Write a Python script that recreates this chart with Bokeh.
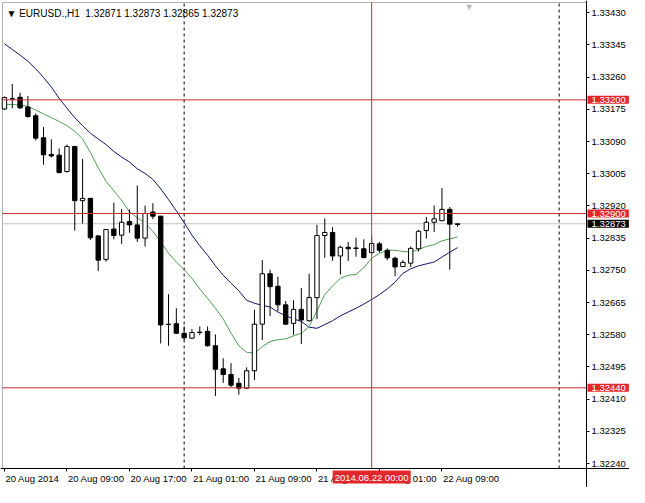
from bokeh.plotting import figure
from bokeh.models import (Range1d, FixedTicker, Label, ColumnDataSource, BoxAnnotation,
                          NumeralTickFormatter, CustomJSTickFormatter)
from bokeh.embed import file_html
from bokeh.resources import INLINE

# ---------------- data ----------------
symbol = "EURUSD.,H1"
hours = list(range(1, 60))  # hours since 20 Aug 2014 00:00

opens = [1.33176, 1.33203, 1.33207, 1.33181, 1.33158, 1.33100, 1.33056, 1.33054, 1.33011, 1.33077,
         1.32934, 1.32940, 1.32841, 1.32779, 1.32859, 1.32843, 1.32879, 1.32870, 1.32835, 1.32904,
         1.32893, 1.32608, 1.32609, 1.32584, 1.32571, 1.32587, 1.32589, 1.32551, 1.32490, 1.32475,
         1.32452, 1.32439, 1.32485, 1.32608, 1.32741, 1.32708, 1.32659, 1.32610, 1.32647, 1.32617,
         1.32678, 1.32842, 1.32850, 1.32788, 1.32811, 1.32809, 1.32807, 1.32797, 1.32820, 1.32803,
         1.32782, 1.32760, 1.32769, 1.32807, 1.32855, 1.32877, 1.32881, 1.32911, 1.32871]
highs = [1.33209, 1.33242, 1.33219, 1.33210, 1.33164, 1.33128, 1.33096, 1.33072, 1.33082, 1.33078,
         1.33044, 1.32941, 1.32842, 1.32859, 1.32929, 1.32912, 1.32911, 1.32974, 1.32921, 1.32927,
         1.32894, 1.32687, 1.32650, 1.32602, 1.32595, 1.32602, 1.32602, 1.32581, 1.32518, 1.32505,
         1.32466, 1.32494, 1.32646, 1.32777, 1.32752, 1.32733, 1.32669, 1.32671, 1.32703, 1.32741,
         1.32870, 1.32887, 1.32864, 1.32815, 1.32825, 1.32836, 1.32832, 1.32841, 1.32825, 1.32808,
         1.32786, 1.32777, 1.32813, 1.32857, 1.32891, 1.32921, 1.32967, 1.32917, 1.32873]
lows = [1.33173, 1.33178, 1.33176, 1.33153, 1.33093, 1.33029, 1.33048, 1.33006, 1.33008, 1.32855,
        1.32874, 1.32830, 1.32748, 1.32773, 1.32832, 1.32820, 1.32849, 1.32825, 1.32813, 1.32885,
        1.32557, 1.32551, 1.32582, 1.32566, 1.32569, 1.32579, 1.32549, 1.32418, 1.32453, 1.32442,
        1.32422, 1.32437, 1.32460, 1.32566, 1.32629, 1.32642, 1.32606, 1.32580, 1.32556, 1.32615,
        1.32621, 1.32783, 1.32775, 1.32739, 1.32775, 1.32786, 1.32781, 1.32792, 1.32797, 1.32777,
        1.32735, 1.32759, 1.32759, 1.32800, 1.32834, 1.32851, 1.32880, 1.32752, 1.32865]
closes = [1.33206, 1.33202, 1.33179, 1.33156, 1.33099, 1.33055, 1.33052, 1.33008, 1.33077, 1.32934,
          1.32940, 1.32836, 1.32777, 1.32858, 1.32842, 1.32877, 1.32870, 1.32835, 1.32900, 1.32893,
          1.32606, 1.32607, 1.32584, 1.32572, 1.32586, 1.32586, 1.32551, 1.32489, 1.32475, 1.32447,
          1.32439, 1.32485, 1.32608, 1.32741, 1.32707, 1.32659, 1.32608, 1.32647, 1.32619, 1.32678,
          1.32842, 1.32850, 1.32788, 1.32811, 1.32807, 1.32808, 1.32784, 1.32821, 1.32803, 1.32783,
          1.32759, 1.32771, 1.32808, 1.32853, 1.32877, 1.32886, 1.32911, 1.32872, 1.32873]

ma_fast = [1.33188, 1.33188, 1.33186, 1.33183, 1.33173, 1.33163, 1.33153, 1.33143, 1.33132, 1.33117,
           1.33097, 1.33061, 1.33021, 1.32985, 1.32960, 1.32935, 1.32904, 1.32889, 1.32874, 1.32853,
           1.32825, 1.32795, 1.32772, 1.32752, 1.32729, 1.32701, 1.32676, 1.32650, 1.32622, 1.32584,
           1.32551, 1.32534, 1.32531, 1.32549, 1.32562, 1.32567, 1.32569, 1.32577, 1.32584, 1.32602,
           1.32643, 1.32686, 1.32709, 1.32729, 1.32737, 1.32739, 1.32757, 1.32782, 1.32795, 1.32803,
           1.32803, 1.32800, 1.32798, 1.32805, 1.32813, 1.32818, 1.32828, 1.32833, 1.32838]
ma_slow = [1.33348, 1.33333, 1.33318, 1.33302, 1.33282, 1.33259, 1.33234, 1.33204, 1.33178, 1.33153,
           1.33132, 1.33112, 1.33097, 1.33082, 1.33064, 1.33049, 1.33036, 1.33018, 1.33006, 1.32990,
           1.32965, 1.32937, 1.32907, 1.32876, 1.32843, 1.32815, 1.32790, 1.32762, 1.32737, 1.32716,
           1.32696, 1.32671, 1.32663, 1.32658, 1.32653, 1.32640, 1.32630, 1.32622, 1.32615, 1.32600,
           1.32597, 1.32607, 1.32617, 1.32630, 1.32640, 1.32650, 1.32661, 1.32673, 1.32686, 1.32701,
           1.32719, 1.32742, 1.32754, 1.32762, 1.32767, 1.32772, 1.32785, 1.32798, 1.32810]

price_ticks = [1.33430, 1.33345, 1.33260, 1.33175, 1.33090, 1.33005, 1.32920, 1.32835,
               1.32750, 1.32665, 1.32580, 1.32495, 1.32410, 1.32325, 1.32240]
time_tick_hours = [1, 9, 17, 25, 33, 41, 49, 57]
time_tick_labels = ["20 Aug 2014", "20 Aug 09:00", "20 Aug 17:00", "21 Aug 01:00",
                    "21 Aug 09:00", "21 Aug 17:00", "22 Aug 01:00", "22 Aug 09:00"]
hline_prices = [1.33200, 1.32900, 1.32440]
bid_price = 1.32873
vline_hour = 48
vline_label = "2014.08.22 00:00"
day_separators = [24, 72]

# ---------------- layout ----------------
X0, X1 = 0.75, 75.5          # visible bar window of the chart area
Y0, Y1 = 1.32227, 1.33457    # visible price window of the chart area
W, H = 629, 487
CL, CR, CT, CB = 2, 586, 2, 468   # chart area in canvas pixels
FONT = "Liberation Sans"
FS = "9.5px"
RED = "#e3262c"
LINE_RED = "#cc2a30"

dx = (X1 - X0) / (CR - CL)
dy = (Y1 - Y0) / (CB - CT)
xr = Range1d(X0 - CL * dx, X1 + (W - CR) * dx)
yr = Range1d(Y0 - (H - CB) * dy, Y1 + CT * dy)
px_per_bar = 1.0 / dx

cw = {d: 0.556 for d in "0123456789"}
cw.update({" ": 0.278, ":": 0.278, ".": 0.278, "A": 0.667, "u": 0.556, "g": 0.556})
def text_px(s):
    return sum(cw.get(ch, 0.556) for ch in s) * 9.5

label_centers = [round(h + (text_px(s) / 2 + 1) / px_per_bar, 3)
                 for h, s in zip(time_tick_hours, time_tick_labels)]

p = figure(width=W, height=H, output_backend="svg", toolbar_location=None,
           x_range=xr, y_range=yr, y_axis_location="right", x_axis_location="below",
           min_border_left=0, min_border_right=0, min_border_top=0, min_border_bottom=0)
p.grid.visible = False
p.outline_line_color = None
p.background_fill_color = "white"
p.border_fill_color = "white"

# right price axis, pinned to the right edge of the chart area
ya = p.yaxis[0]
ya.fixed_location = X1
ya.ticker = FixedTicker(ticks=price_ticks)
ya.formatter = NumeralTickFormatter(format="0.00000")
ya.major_tick_out = 3
ya.major_tick_in = 0
ya.minor_tick_out = 0
ya.major_label_standoff = 2
ya.axis_line_color = "black"
ya.major_label_text_font = FONT
ya.major_label_text_font_size = FS
ya.major_label_text_color = "black"

# bottom time axis, pinned to the bottom of the chart area; labels start at their tick marks
xa = p.xaxis[0]
xa.fixed_location = Y0
xa.ticker = FixedTicker(ticks=label_centers, minor_ticks=time_tick_hours)
xa.formatter = CustomJSTickFormatter(args=dict(labels=time_tick_labels),
                                     code="return labels[index] || '';")
xa.major_tick_out = 0
xa.major_tick_in = 0
xa.minor_tick_out = 3
xa.minor_tick_in = 0
xa.major_label_standoff = 1
xa.axis_line_color = "black"
xa.major_label_text_font = FONT
xa.major_label_text_font_size = FS
xa.major_label_text_color = "black"

# chart area border
p.add_layout(BoxAnnotation(left=X0, right=X1, bottom=Y0, top=Y1, fill_alpha=0,
                           line_color="black", line_width=1, level="underlay"))

# candles
tops = [max(o, c) for o, c in zip(opens, closes)]
bots = [min(o, c) for o, c in zip(opens, closes)]
fills = ["white" if c >= o else "black" for o, c in zip(opens, closes)]
src = ColumnDataSource(dict(x=hours, o=opens, h=highs, l=lows, c=closes,
                            top=tops, bottom=bots, fill=fills))

# period separators (dashed), behind everything
p.segment(x0=day_separators, y0=[Y0] * len(day_separators), x1=day_separators,
          y1=[Y1] * len(day_separators), line_color="black", line_dash="3 3", line_width=1)

# bid line
p.segment(x0=[X0], y0=[bid_price], x1=[X1], y1=[bid_price], line_color="#c0c0c0", line_width=1)

# moving averages
p.line(hours, ma_slow, line_color="#14146e", line_width=1)
p.line(hours, ma_fast, line_color="#4f9f4f", line_width=1)

p.segment(x0="x", y0="l", x1="x", y1="h", source=src, line_color="black", line_width=1)
p.vbar(x="x", top="top", bottom="bottom", width=0.56, source=src,
       fill_color="fill", line_color="black", line_width=1)

# horizontal red lines
n = len(hline_prices)
p.segment(x0=[X0] * n, y0=hline_prices, x1=[X1] * n, y1=hline_prices,
          line_color=LINE_RED, line_width=1)

# vertical red line
p.segment(x0=[vline_hour], y0=[Y0], x1=[vline_hour], y1=[Y1], line_color=LINE_RED, line_width=1)

# price tags over the right axis
pad = dict(left=4, right=3, top=1, bottom=1)
for hp in hline_prices:
    p.add_layout(Label(x=X1, y=hp, x_offset=1, text=f"{hp:.5f}", text_color="white",
                       text_font=FONT, text_font_size=FS, text_baseline="middle",
                       text_align="left", background_fill_color=RED, padding=pad))
p.add_layout(Label(x=X1, y=bid_price, x_offset=1, text=f"{bid_price:.5f}", text_color="white",
                   text_font=FONT, text_font_size=FS, text_baseline="middle",
                   text_align="left", background_fill_color="black", padding=pad))

# time tag of the vertical line
p.add_layout(Label(x=vline_hour, y=Y0, y_offset=-2, text=vline_label, text_color="white",
                   text_font=FONT, text_font_size=FS, text_baseline="top",
                   text_align="center", background_fill_color=RED,
                   padding=dict(left=2, right=2, top=1, bottom=1)))

# header
header = "\u25bc " + symbol + "\u00a0\u00a0" + " ".join(
    f"{v:.5f}" for v in (opens[-1], highs[-1], lows[-1], closes[-1]))
p.add_layout(Label(x=X0, y=Y1, x_offset=4, y_offset=-5, text=header, text_color="black",
                   text_font=FONT, text_font_size="10px", text_baseline="top", text_align="left"))

# chart shift marker
p.add_layout(Label(x=60.5, y=Y1, y_offset=1, text="\u25bc", text_color="#b4b4b4",
                   text_font=FONT, text_font_size="9px", text_baseline="top", text_align="center"))

open("out.html", "w").write(file_html(p, INLINE))
